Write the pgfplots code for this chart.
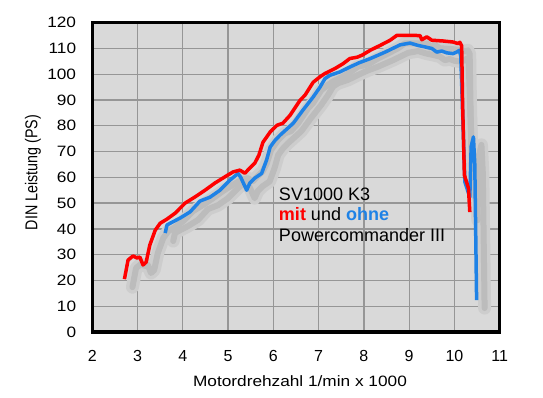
\documentclass[border=0pt]{standalone}
\usepackage{fontspec}
\setmainfont{Liberation Sans}
\newfontfamily\widefont{Liberation Sans}[FakeStretch=1.15]
\usepackage{pgfplots}
\usepackage{pgfplotstable}
\pgfplotsset{compat=1.18}
\definecolor{bg}{RGB}{217,217,217}
\definecolor{gridc}{RGB}{150,150,150}
\definecolor{myred}{RGB}{255,0,0}
\definecolor{myblue}{RGB}{30,130,230}
\definecolor{sh1}{RGB}{205,205,205}
\definecolor{sh2}{RGB}{188,188,188}
\pgfplotstableread{
x y
2.71 20.5
2.79 27.9
2.90 29.5
2.99 28.7
3.05 29.1
3.12 26.0
3.19 27.1
3.27 33.7
3.39 39.5
3.50 42.2
3.65 43.8
3.83 46.1
4.05 50.0
4.27 52.4
4.49 55.0
4.71 57.8
4.93 60.2
5.11 62.1
5.26 62.8
5.37 61.6
5.48 63.6
5.59 65.5
5.68 68.6
5.77 73.6
5.93 77.6
6.08 80.2
6.21 81.0
6.37 84.1
6.59 89.9
6.70 91.9
6.88 96.9
7.03 99.0
7.14 100.3
7.36 102.2
7.54 104.1
7.69 106.1
7.85 106.6
7.96 107.4
8.14 109.3
8.36 111.2
8.58 113.2
8.73 115.1
9.02 115.1
9.24 115.0
9.28 113.4
9.39 114.5
9.50 113.2
9.75 112.9
9.97 112.5
10.08 111.9
10.12 112.4
10.16 111.0
10.18 89.0
10.22 60.9
10.31 55.8
10.34 46.5
}\redtab
\pgfplotstableread{
x y
3.61 38.4
3.65 41.5
3.72 42.2
3.94 44.2
4.16 46.6
4.38 50.8
4.60 52.3
4.82 55.0
5.04 58.9
5.22 61.5
5.28 60.0
5.41 55.0
5.48 57.8
5.59 59.7
5.74 61.5
5.85 66.7
5.93 71.8
6.04 74.4
6.15 76.4
6.44 81.0
6.65 86.0
6.88 91.2
7.03 95.0
7.14 98.3
7.25 99.6
7.47 100.9
7.69 102.8
7.90 104.5
8.13 106.0
8.47 108.6
8.80 111.4
9.02 112.1
9.19 111.2
9.35 110.6
9.50 110.0
9.61 108.6
9.72 109.0
9.83 108.3
9.97 108.0
10.05 108.6
10.11 109.3
10.14 107.0
10.20 75.0
10.23 58.3
10.34 52.3
10.37 72.0
10.42 75.7
10.45 65.0
10.49 12.4
}\bluetab
\begin{document}
\begin{tikzpicture}
\begin{axis}[name=ax, scale only axis, width=407.4pt, height=309.3pt,
  xmin=2, xmax=11, ymin=0, ymax=120,
  xtick={2,...,11}, ytick={0,10,...,120},
  major tick length=0pt,
  grid=major, grid style={gridc, line width=1.3pt},
  axis background/.style={fill=bg},
  axis line style={line width=3.5pt, black},
  /pgf/number format/assume math mode=true,
  xticklabel style={font=\fontsize{16}{16}\selectfont, inner sep=0pt},
  xticklabel shift=18pt,
  yticklabel style={font=\widefont\fontsize{15}{15}\selectfont, inner sep=0pt},
  yticklabel shift=16pt,
  xlabel={Motordrehzahl 1/min x 1000},
  xlabel style={font=\widefont\fontsize{15}{15}\selectfont, at={(axis description cs:0.5,0)}, anchor=base, inner sep=0pt, yshift=-54.7pt, xshift=4pt},
  ylabel={\scalebox{1}[1.2]{DIN Leistung (PS)}},
  ylabel style={font=\fontsize{14.3}{14.3}\selectfont, at={(axis description cs:0,0.5)}, anchor=center, inner sep=0pt, yshift=59.3pt, xshift=4.8pt},
]
\addplot[sh1, line width=13pt, line join=round, line cap=round, xshift=8pt, yshift=-8pt] table {\redtab};
\addplot[sh1, line width=13pt, line join=round, line cap=round, xshift=8pt, yshift=-8pt] table {\bluetab};
\addplot[sh2, line width=6pt, line join=round, line cap=round, xshift=8pt, yshift=-8pt] table {\redtab};
\addplot[sh2, line width=6pt, line join=round, line cap=round, xshift=8pt, yshift=-8pt] table {\bluetab};
\addplot[myblue, line width=3.5pt, line join=round] table {\bluetab};
\addplot[myred, line width=3.5pt, line join=round] table {\redtab};
\node[anchor=base west, inner sep=0pt, font=\fontsize{18}{18}\selectfont] at (axis cs:6.12,51.2) {SV1000 K3};
\node[anchor=base west, inner sep=0pt, font=\fontsize{18}{18}\selectfont] at (axis cs:6.12,43.3) {\textcolor{myred}{\bfseries mit} und \textcolor{myblue}{\bfseries ohne}};
\node[anchor=base west, inner sep=0pt, font=\fontsize{18}{18}\selectfont] at (axis cs:6.12,35.0) {Powercommander III};
\end{axis}
\pgfresetboundingbox
\path[use as bounding box] ([xshift=-92.3pt,yshift=-66pt]ax.south west) rectangle ++(543pt,398pt);
\end{tikzpicture}
\end{document}
